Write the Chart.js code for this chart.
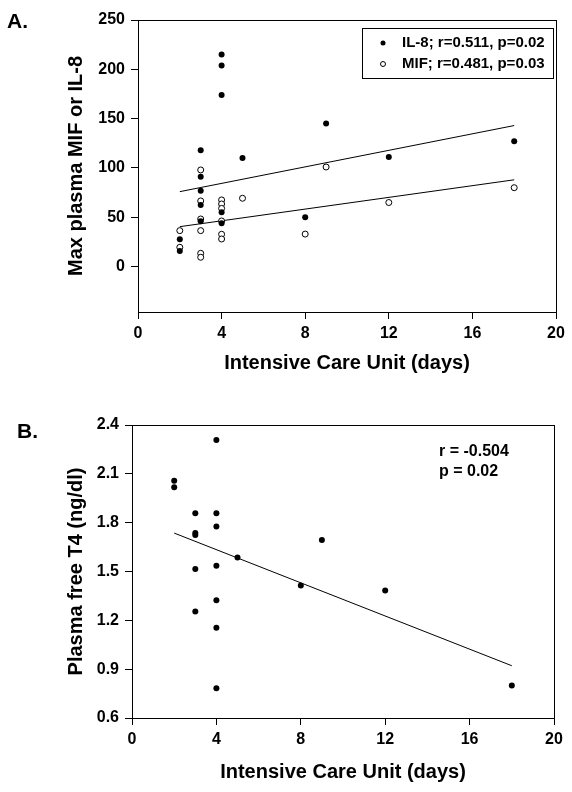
<!DOCTYPE html>
<html>
<head>
<meta charset="utf-8">
<script src="https://cdn.jsdelivr.net/npm/chart.js@4.4.1/dist/chart.umd.min.js"></script>
<style>
  body { margin: 0; background: #fff; }
  canvas { position: absolute; left: 0; }
  #chartA { top: 0; }
  #chartB { top: 395px; }
</style>
</head>
<body>
<canvas id="chartA" width="572" height="390"></canvas>
<canvas id="chartB" width="572" height="397"></canvas>
<script>
// panel A - IL-8 (filled) and MIF (open) vs ICU days
var il8Days = [2, 2, 3, 3, 3, 3, 3, 4, 4, 4, 4, 4, 5, 8, 9, 12, 18];
var il8Vals = [27.7, 15.9, 118, 91, 77, 62.5, 46, 215, 204, 174, 55, 44, 110, 50, 145, 111, 127];
var mifDays = [2, 2, 3, 3, 3, 3, 3, 3, 4, 4, 4, 4, 4, 4, 5, 8, 9, 12, 18];
var mifVals = [36.5, 19.6, 98, 66.6, 48.3, 36.5, 13.5, 9.5, 67.6, 63.5, 59, 46.3, 32.8, 28, 69.3, 33, 101, 65, 80];
var il8FitX = [2, 18];
var il8FitY = [76, 143];
var mifFitX = [2, 18];
var mifFitY = [40.5, 88];
var legendA = ["IL-8; r=0.511, p=0.02", "MIF; r=0.481, p=0.03"];
var yTicksA = [0, 50, 100, 150, 200, 250];

// panel B - free T4 vs ICU days
var t4Days = [4, 2, 2, 3, 4, 4, 3, 3, 9, 5, 4, 3, 8, 4, 3, 4, 4, 12, 18];
var t4Vals = [2.308, 2.058, 2.018, 1.858, 1.858, 1.776, 1.736, 1.725, 1.694, 1.586, 1.535, 1.516, 1.414, 1.324, 1.255, 1.155, 0.782, 1.383, 0.799];
var t4FitX = [2, 18];
var t4FitY = [1.736, 0.921];
var statsB = ["r = -0.504", "p = 0.02"];
var yTicksB = [0.6, 0.9, 1.2, 1.5, 1.8, 2.1, 2.4];

var xTicks = [0, 4, 8, 12, 16, 20];

var FONT = "Arial, 'Liberation Sans', sans-serif";
Chart.defaults.font.family = FONT;
Chart.defaults.color = "#000";

function pts(xs, ys) {
  return xs.map(function (x, i) { return { x: x, y: ys[i] }; });
}

var boxPlugin = {
  id: "box",
  afterDraw: function (chart, args, opts) {
    var a = chart.chartArea, ctx = chart.ctx;
    ctx.save();
    ctx.strokeStyle = "#000";
    ctx.lineWidth = 1;
    ctx.strokeRect(Math.round(a.left) + 0.5, Math.round(a.top) + 0.5, Math.round(a.right - a.left), Math.round(a.bottom - a.top));
    ctx.fillStyle = "#000";
    ctx.font = "bold 21px " + FONT;
    ctx.textBaseline = "middle";
    ctx.fillText(opts.letter, opts.lx, opts.ly);
    ctx.restore();
  }
};

var legendPlugin = {
  id: "boxLegend",
  afterDraw: function (chart, args, opts) {
    if (!opts.labels) return;
    var ctx = chart.ctx;
    ctx.save();
    ctx.strokeStyle = "#000";
    ctx.lineWidth = 1;
    ctx.strokeRect(362.5, 28.5, 191, 50);
    ctx.font = "bold 15px " + FONT;
    ctx.textBaseline = "middle";
    ctx.fillStyle = "#000";
    opts.labels.forEach(function (t, i) {
      var y = 43 + i * 21;
      ctx.beginPath();
      ctx.arc(383, y, 2.5, 0, Math.PI * 2);
      if (i === 0) { ctx.fill(); } else { ctx.fillStyle = "#fff"; ctx.fill(); ctx.stroke(); ctx.fillStyle = "#000"; }
      ctx.fillText(t, 402, y);
    });
    ctx.restore();
  }
};

var statsPlugin = {
  id: "stats",
  afterDraw: function (chart, args, opts) {
    if (!opts.lines) return;
    var ctx = chart.ctx;
    ctx.save();
    ctx.font = "bold 16px " + FONT;
    ctx.fillStyle = "#000";
    ctx.textBaseline = "middle";
    opts.lines.forEach(function (t, i) { ctx.fillText(t, 439, 57 + i * 20); });
    ctx.restore();
  }
};

function axes(xmin, xmax, ymin, ymax, yTicks, yTitle, yWidth, xHeight, fmt) {
  return {
    x: {
      type: "linear", min: xmin, max: xmax,
      afterBuildTicks: function (s) { s.ticks = xTicks.map(function (v) { return { value: v }; }); },
      afterFit: function (s) { s.height = xHeight; },
      grid: { drawOnChartArea: false, color: "#000", tickLength: 7 },
      border: { color: "#000" },
      ticks: { font: { size: 16, weight: "bold" }, padding: 5, maxRotation: 0 },
      title: { display: true, text: "Intensive Care Unit (days)", font: { size: 20, weight: "bold" }, padding: 0 }
    },
    y: {
      type: "linear", min: ymin, max: ymax,
      afterBuildTicks: function (s) { s.ticks = yTicks.map(function (v) { return { value: v }; }); },
      afterFit: function (s) { s.width = yWidth; },
      grid: { drawOnChartArea: false, color: "#000", tickLength: 7 },
      border: { color: "#000" },
      ticks: { font: { size: 16, weight: "bold" }, padding: 6, callback: fmt },
      title: { display: true, text: yTitle, font: { size: 20, weight: "bold" }, padding: { top: 64, bottom: 0 } }
    }
  };
}

new Chart(document.getElementById("chartA"), {
  type: "scatter",
  data: {
    datasets: [
      { data: pts(il8Days, il8Vals), pointRadius: 3, pointBackgroundColor: "#000", pointBorderColor: "#000", pointBorderWidth: 0 },
      { data: pts(mifDays, mifVals), pointRadius: 3, pointBackgroundColor: "#fff", pointBorderColor: "#000", pointBorderWidth: 1 },
      { type: "line", data: pts(il8FitX, il8FitY), borderColor: "#000", borderWidth: 1, pointRadius: 0 },
      { type: "line", data: pts(mifFitX, mifFitY), borderColor: "#000", borderWidth: 1, pointRadius: 0 }
    ]
  },
  options: {
    responsive: false, animation: false, devicePixelRatio: 1,
    layout: { padding: { left: 0, top: 20, right: 16, bottom: 15 } },
    plugins: {
      legend: { display: false }, tooltip: { enabled: false },
      box: { letter: "A.", lx: 7, ly: 22 },
      boxLegend: { labels: legendA }
    },
    scales: axes(0, 20, -46, 250, yTicksA, "Max plasma MIF or IL-8", 138, 63, function (v) { return v; })
  },
  plugins: [boxPlugin, legendPlugin]
});

new Chart(document.getElementById("chartB"), {
  type: "scatter",
  data: {
    datasets: [
      { data: pts(t4Days, t4Vals), pointRadius: 3, pointBackgroundColor: "#000", pointBorderColor: "#000", pointBorderWidth: 0 },
      { type: "line", data: pts(t4FitX, t4FitY), borderColor: "#000", borderWidth: 1, pointRadius: 0 }
    ]
  },
  options: {
    responsive: false, animation: false, devicePixelRatio: 1,
    layout: { padding: { left: 0, top: 30, right: 18, bottom: 8 } },
    plugins: {
      legend: { display: false }, tooltip: { enabled: false },
      box: { letter: "B.", lx: 17, ly: 37 },
      stats: { lines: statsB }
    },
    scales: axes(0, 20, 0.6, 2.4, yTicksB, "Plasma free T4 (ng/dl)", 132, 66, function (v) { return v.toFixed(1); })
  },
  plugins: [boxPlugin, statsPlugin]
});
</script>
</body>
</html>
